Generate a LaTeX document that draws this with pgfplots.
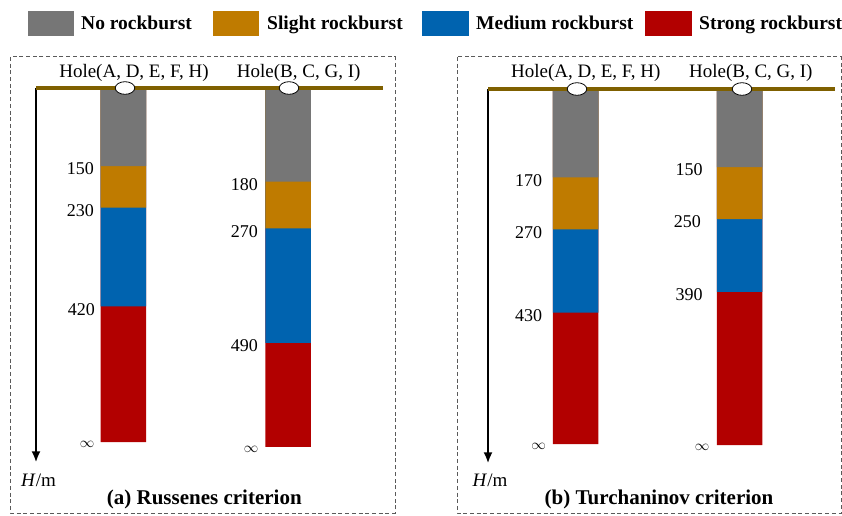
\documentclass[border=0pt]{standalone}
\usepackage{graphicx}
\usepackage{fontspec}
\setmainfont{Liberation Serif}
\usepackage{pgfplots}
\usepackage{pgfplotstable}
\pgfplotsset{compat=1.18}
\usetikzlibrary{arrows.meta}
\definecolor{cgray}{RGB}{118,118,118}
\definecolor{corange}{RGB}{191,123,0}
\definecolor{cblue}{RGB}{0,99,175}
\definecolor{cred}{RGB}{178,0,0}
\definecolor{ground}{RGB}{127,96,0}
\definecolor{boxgray}{RGB}{90,90,90}

% boundary depths (m) of each zone; last column = drawn end of the "infinite" zone
\pgfplotstableread{
x     no   slight medium strong
123.4 150  230    420    681
288   180  270    490    690
}\russ
\pgfplotstableread{
x     no   slight medium strong
575.7 170  270    430    683
739.5 150  250    390    685
}\turch

\pgfplotsset{
  holeaxis/.style={hide axis, scale only axis, width=347pt, height=374.4pt,
    ymin=0, ymax=720, y dir=reverse, clip=false},
  seg/.style={ybar, bar width=45.5pt, bar shift=0pt, draw=none, fill=#1},
}
\tikzset{lbl/.style={anchor=east, inner sep=0pt, yshift=-3pt, font=\fontsize{18}{18}\selectfont},
  inf/.style={anchor=east, inner sep=0pt, yshift=-2.5pt}}
\newcommand{\inft}{\scalebox{1.45}{$\infty$}}

\begin{document}
\begin{tikzpicture}[x=1pt,y=1pt]
\useasboundingbox (0,0) rectangle (842,515);

% panel frames
\draw[boxgray, line width=1pt, dash pattern=on 4pt off 2.7pt] (10.5,458) rectangle (395,2);
\draw[boxgray, line width=1pt, dash pattern=on 4pt off 2.7pt] (457,458) rectangle (841,2);

% legend
\def\legfont{\bfseries\fontsize{19.5}{19.5}\selectfont}
\fill[cgray]   (28,479.3)  rectangle (74,504.3);
\node[anchor=base west, inner sep=0, font=\legfont] at (81,485) {No rockburst};
\fill[corange] (213,479.3) rectangle (259,504.3);
\node[anchor=base west, inner sep=0, font=\legfont] at (267,485) {Slight rockburst};
\fill[cblue]   (422,479.3) rectangle (469,504.3);
\node[anchor=base west, inner sep=0, font=\legfont] at (476,485) {Medium rockburst};
\fill[cred]    (645,479.3) rectangle (692,504.3);
\node[anchor=base west, inner sep=0, font=\legfont] at (699,485) {Strong rockburst};

% ---------------- panel (a)
\begin{axis}[holeaxis, at={(36pt,427pt)}, anchor=north west, xmin=36, xmax=383]
\addplot[seg=cred]    table[x=x,y=strong]{\russ};
\addplot[seg=cblue]   table[x=x,y=medium]{\russ};
\addplot[seg=corange] table[x=x,y=slight]{\russ};
\addplot[seg=cgray]   table[x=x,y=no]{\russ};
\addplot[black, line width=2.4pt, -{Latex[length=11pt,width=9pt]}] coordinates {(36,0) (36,720)};
\addplot[ground, line width=4pt] coordinates {(36,0) (383,0)};
\addplot[only marks, mark=*, mark size=6.3pt, mark options={fill=white, draw=black, line width=0.8pt, xscale=1.55}] coordinates {(125,0) (289,0)};
\node[lbl] at (axis cs:94,150) {150};
\node[lbl] at (axis cs:94,230) {230};
\node[lbl] at (axis cs:95,420) {420};
\node[inf] at (axis cs:94.5,681) {\inft};
\node[lbl] at (axis cs:258,180) {180};
\node[lbl] at (axis cs:258,270) {270};
\node[lbl] at (axis cs:258,490) {490};
\node[inf] at (axis cs:258.5,690) {\inft};
\end{axis}

% ---------------- panel (b)
\begin{axis}[holeaxis, at={(488pt,426pt)}, anchor=north west, xmin=488, xmax=835]
\addplot[seg=cred]    table[x=x,y=strong]{\turch};
\addplot[seg=cblue]   table[x=x,y=medium]{\turch};
\addplot[seg=corange] table[x=x,y=slight]{\turch};
\addplot[seg=cgray]   table[x=x,y=no]{\turch};
\addplot[black, line width=2.4pt, -{Latex[length=11pt,width=9pt]}] coordinates {(488,0) (488,720)};
\addplot[ground, line width=4pt] coordinates {(488,0) (835,0)};
\addplot[only marks, mark=*, mark size=6.3pt, mark options={fill=white, draw=black, line width=0.8pt, xscale=1.55}] coordinates {(577,0) (742,0)};
\node[lbl] at (axis cs:542.3,170) {170};
\node[lbl] at (axis cs:542.3,270) {270};
\node[lbl] at (axis cs:542.3,430) {430};
\node[inf] at (axis cs:546,683) {\inft};
\node[lbl] at (axis cs:702.7,150) {150};
\node[lbl] at (axis cs:701,250) {250};
\node[lbl] at (axis cs:702.7,390) {390};
\node[inf] at (axis cs:709.5,685) {\inft};
\end{axis}

% hole names, axis names, panel titles
\def\holefont{\fontsize{19}{19}\selectfont}
\node[inner sep=0, font=\holefont] at (134,442.3) {Hole(A, D, E, F, H)};
\node[inner sep=0, font=\holefont] at (298.7,442.3) {Hole(B, C, G, I)};
\node[inner sep=0, font=\holefont] at (585.8,442.3) {Hole(A, D, E, F, H)};
\node[inner sep=0, font=\holefont] at (750.8,442.3) {Hole(B, C, G, I)};
\node[inner sep=0, font=\holefont] at (38.5,34.3) {\textit{H}/m};
\node[inner sep=0, font=\holefont] at (490,34.3) {\textit{H}/m};
\node[inner sep=0, font=\bfseries\fontsize{21}{21}\selectfont] at (204.3,16) {(a) Russenes criterion};
\node[inner sep=0, font=\bfseries\fontsize{21}{21}\selectfont] at (659,16) {(b) Turchaninov criterion};
\end{tikzpicture}
\end{document}
